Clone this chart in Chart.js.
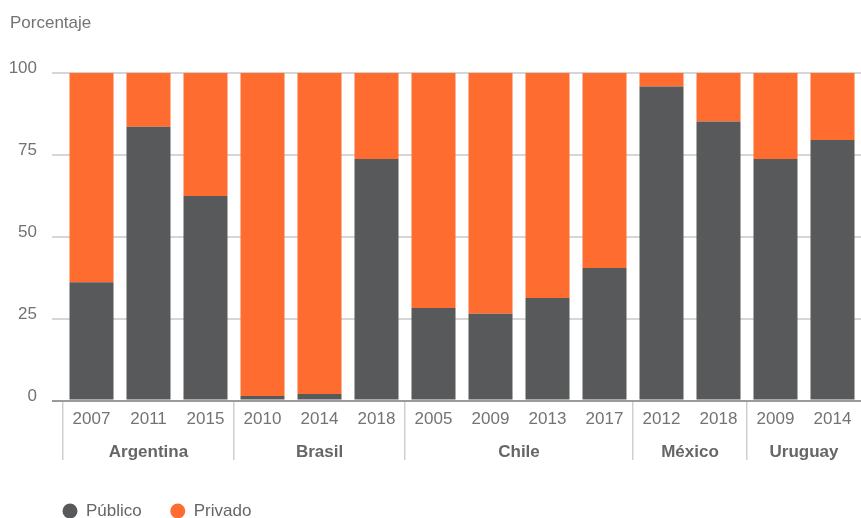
<!DOCTYPE html>
<html>
<head>
<meta charset="utf-8">
<script src="https://cdn.jsdelivr.net/npm/chart.js@4/dist/chart.umd.min.js"></script>
<style>
  html, body { margin: 0; padding: 0; background: #ffffff; }
  #wrap { width: 861px; height: 518px; position: relative; }
</style>
</head>
<body>
<div id="wrap"><canvas id="c"></canvas></div>
<script>
// ---- data ----
const years = ['2007','2011','2015','2010','2014','2018','2005','2009','2013','2017','2012','2018','2009','2014'];
const countries = ['Argentina','Brasil','Chile','México','Uruguay'];
const countryCenters = [1.5, 4.5, 8, 11, 13];      // in category units
const groupStartIndex = [0, 3, 6, 10, 12];          // first bar index of each country
const publico = [36.1, 83.5, 62.4, 1.4, 2.0, 73.7, 28.2, 26.5, 31.3, 40.4, 95.8, 85.1, 73.7, 79.5];
const privado = [63.9, 16.5, 37.6, 98.6, 98.0, 26.3, 71.8, 73.5, 68.7, 59.6, 4.2, 14.9, 26.3, 20.5];
const yTicks = [0, 25, 50, 75, 100];

const FONT = "'Liberation Sans', Arial, Helvetica, sans-serif";
const DARK = '#58595b';
const ORANGE = '#fe6d2f';

const legendShift = {
  id: 'legendShift',
  afterLayout(chart) {
    const lg = chart.legend;
    if (lg) { lg.left = 34; lg.top = 474; }
  }
};

new Chart(document.getElementById('c'), {
  type: 'bar',
  data: {
    labels: years,
    datasets: [
      { label: 'Público', data: publico, backgroundColor: DARK, borderWidth: 0, pointStyle: 'circle' },
      { label: 'Privado', data: privado, backgroundColor: ORANGE, borderWidth: 0, pointStyle: 'circle' }
    ]
  },
  options: {
    responsive: true,
    maintainAspectRatio: false,
    animation: false,
    layout: { padding: { left: 10, right: 0, top: 0, bottom: 0 } },
    datasets: { bar: { barPercentage: 0.772, categoryPercentage: 1.0 } },
    plugins: {
      title: {
        display: true,
        text: 'Porcentaje',
        align: 'start',
        color: '#737373',
        font: { family: FONT, size: 17, weight: 'normal' },
        padding: { top: 13, bottom: 39.3 }
      },
      legend: {
        display: true,
        position: 'bottom',
        align: 'start',
        labels: {
          usePointStyle: true,
          pointStyleWidth: 15,
          boxHeight: 10.6,
          padding: 28.5,
          color: '#666666',
          font: { family: FONT, size: 17 }
        }
      },
      tooltip: { enabled: false }
    },
    scales: {
      x: {
        type: 'category',
        position: 'bottom',
        stacked: true,
        offset: true,
        grid: {
          display: true,
          offset: true,
          drawOnChartArea: false,
          drawTicks: true,
          tickLength: 59.5,
          lineWidth: 1.5,
          color: (ctx) => groupStartIndex.includes(ctx.index) ? '#cfcfcf' : 'rgba(0,0,0,0)'
        },
        border: { display: true, color: '#9a9a9a', width: 2 },
        ticks: {
          color: '#737373',
          font: { family: FONT, size: 17 },
          padding: -50.7,
          maxRotation: 0,
          autoSkip: false
        },
        afterFit: (s) => { s.height = 30; }
      },
      xGroup: {
        type: 'linear',
        position: 'bottom',
        offset: false,
        min: 0,
        max: 14,
        grid: { display: false, drawTicks: false, offset: false },
        border: { display: false },
        afterBuildTicks: (s) => { s.ticks = countryCenters.map(v => ({ value: v })); },
        ticks: {
          autoSkip: false,
          maxRotation: 0,
          color: '#666666',
          font: { family: FONT, size: 17, weight: 'bold' },
          padding: 11.8,
          callback: (v, i) => countries[i]
        },
        afterFit: (s) => { s.height = 117.5 - 30 - s.chart.legend.height; }
      },
      y: {
        stacked: true,
        min: 0,
        max: 100,
        afterBuildTicks: (s) => { s.ticks = yTicks.map(v => ({ value: v })); },
        grid: {
          drawTicks: true,
          tickLength: 11,
          lineWidth: 2,
          color: (ctx) => (ctx.tick && ctx.tick.value === 0) ? '#9a9a9a' : '#d6d6d6'
        },
        border: { display: false },
        ticks: {
          color: '#737373',
          font: { family: FONT, size: 17, lineHeight: 0.5 },
          padding: 15,
          callback: (v) => [String(v), '']
        },
        afterFit: (s) => { s.width = 53; }
      }
    }
  },
  plugins: [legendShift]
});
</script>
</body>
</html>
